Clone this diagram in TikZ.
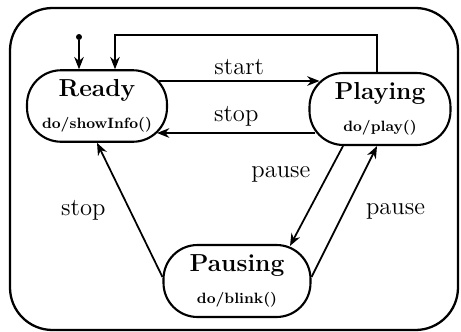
\documentclass[tikz,border=0pt]{standalone}
\usepackage{tikz}
\usetikzlibrary{arrows.meta,calc,positioning}
\tikzset{
    %Define standard arrow tip
    >={Stealth[length=7pt,width=5.5pt]},
    %Define style for states
    state/.style={
           rectangle,
           rounded corners=0.68cm,
           draw=black, line width=1.2pt,
           minimum width=2.8cm,
           minimum height=1.43cm,
           inner sep=0pt,
           align=center},
    % Define arrow style
    pil/.style={
           ->,
           line width=1pt},
    trans/.style={
           font=\fontsize{14}{16}\selectfont}
}
\newcommand{\statetext}[2]{{\fontsize{14}{16}\selectfont\bfseries #1}\\[6pt]{\fontsize{8.5}{10}\selectfont\bfseries #2}}

\begin{document}
\begin{tikzpicture}[x=0.02cm,y=-0.02cm]
\useasboundingbox (0,0) rectangle (461,332);

 %frame
\draw[line width=1.3pt, rounded corners=0.85cm] (10,8) rectangle (458,330);

 %nodes
\node[state](ready) at (97,106) {\statetext{Ready}{do/showInfo()}};
\node[state, minimum width=2.82cm, minimum height=1.44cm](playing) at (380,109) {\statetext{Playing}{do/play()}};
\node[state, minimum width=2.94cm, minimum height=1.44cm](pausing) at (237,281) {\statetext{Pausing}{do/blink()}};
\node[circle, fill=black, inner sep=0pt, minimum size=0.12cm](init) at (79,37) {};
\coordinate (bend) at (115,35);

 %transitions
\draw[pil] (init) -- (init |- ready.north);
\draw[pil] ($(playing.north)+(-3,0)$) |- (bend) -- (bend |- ready.north);
\draw[pil] ($(ready.east)+(-9,-25)$) -- node[trans, above] {start} ($(playing.west)+(11,-28)$);
\draw[pil] ($(playing.west)+(7,24)$) -- node[trans, above] {stop} ($(ready.east)+(-11,27)$);
\draw[pil] ($(playing.south)+(-37,0)$) -- node[trans, pos=0.28, left=0.22cm] {pause} ($(pausing.north)+(53,2)$);
\draw[pil] ($(pausing.east)+(0,-4)$) -- node[trans, right=0.3cm] {pause} ($(playing.south)+(-3,0)$);
\draw[pil] ($(pausing.west)+(0,-4)$) -- node[trans, left=0.35cm] {stop} (ready.south);
\end{tikzpicture}
\end{document}
